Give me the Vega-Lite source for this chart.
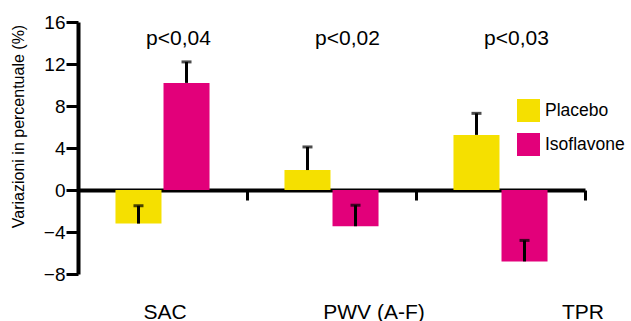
{
  "$schema": "https://vega.github.io/schema/vega-lite/v6.json",
  "width": 507,
  "height": 252,
  "autosize": {"type": "none"},
  "padding": {"left": 78, "top": 22, "right": 46, "bottom": 47},
  "background": "white",
  "config": {
    "view": {"stroke": null},
    "font": "Liberation Sans",
    "axisX": {
      "offset": -84, "domainColor": "black", "domainWidth": 4,
      "tickBand": "extent", "tickColor": "black", "tickWidth": 3, "tickSize": 10,
      "labelFontSize": 21, "labelColor": "black", "labelBaseline": "alphabetic",
      "labelPadding": 118, "labelAngle": 0
    },
    "axisY": {
      "grid": false, "domainColor": "black", "domainWidth": 4,
      "tickColor": "black", "tickWidth": 3, "tickSize": 12,
      "labelFontSize": 19, "labelColor": "black", "labelPadding": 1,
      "titleFontSize": 16, "titleFontWeight": "normal", "titleColor": "black",
      "titleX": -60, "titleY": 104, "titleAngle": -90, "titleAlign": "center", "titleBaseline": "middle"
    }
  },
  "datasets": {
    "bars": [
      {"param": "SAC", "group": "Placebo", "value": -3.2, "cap": -1.5},
      {"param": "SAC", "group": "Isoflavone", "value": 10.2, "cap": 12.2},
      {"param": "PWV (A-F)", "group": "Placebo", "value": 1.9, "cap": 4.1},
      {"param": "PWV (A-F)", "group": "Isoflavone", "value": -3.45, "cap": -1.45},
      {"param": "TPR", "group": "Placebo", "value": 5.25, "cap": 7.3},
      {"param": "TPR", "group": "Isoflavone", "value": -6.8, "cap": -4.8}
    ],
    "pvals": [
      {"param": "SAC", "p": "p<0,04"},
      {"param": "PWV (A-F)", "p": "p<0,02"},
      {"param": "TPR", "p": "p<0,03"}
    ]
  },
  "layer": [
    {
      "data": {"name": "bars"},
      "mark": {"type": "bar"},
      "encoding": {
        "x": {
          "field": "param", "type": "nominal", "sort": ["SAC", "PWV (A-F)", "TPR"],
          "scale": {"paddingInner": 0, "paddingOuter": 0},
          "axis": {
            "title": null,
            "labelOffset": {"expr": "datum.value == 'SAC' ? 2 : datum.value == 'TPR' ? 82 : 42"}
          }
        },
        "xOffset": {
          "field": "group", "type": "nominal", "sort": ["Placebo", "Isoflavone"],
          "scale": {"paddingInner": 0.042, "paddingOuter": 0.78}
        },
        "y": {
          "field": "value", "type": "quantitative",
          "scale": {"domain": [-8, 16], "nice": false, "zero": false},
          "axis": {"title": "Variazioni in percentuale (%)", "values": [-8, -4, 0, 4, 8, 12, 16]}
        },
        "color": {
          "field": "group", "type": "nominal", "sort": ["Placebo", "Isoflavone"],
          "scale": {"domain": ["Placebo", "Isoflavone"], "range": ["#F5E000", "#E2007A"]},
          "legend": {
            "title": null, "orient": "none", "legendX": 439, "legendY": 77, "padding": 0,
            "symbolType": "square", "symbolSize": 529, "symbolStrokeWidth": 0, "symbolOpacity": 1,
            "labelFontSize": 17.5, "labelColor": "black", "labelOffset": 5, "rowPadding": 11
          }
        }
      }
    },
    {
      "data": {"name": "bars"},
      "mark": {"type": "rule", "color": "black", "strokeWidth": 3},
      "encoding": {
        "x": {"field": "param", "type": "nominal", "sort": ["SAC", "PWV (A-F)", "TPR"]},
        "xOffset": {"field": "group", "type": "nominal", "sort": ["Placebo", "Isoflavone"]},
        "y": {"field": "value", "type": "quantitative"},
        "y2": {"field": "cap"}
      }
    },
    {
      "data": {"name": "bars"},
      "mark": {"type": "tick", "color": "black", "thickness": 3, "size": 10, "orient": "horizontal"},
      "encoding": {
        "x": {"field": "param", "type": "nominal", "sort": ["SAC", "PWV (A-F)", "TPR"]},
        "xOffset": {"field": "group", "type": "nominal", "sort": ["Placebo", "Isoflavone"]},
        "y": {"field": "cap", "type": "quantitative"}
      }
    },
    {
      "data": {"name": "pvals"},
      "mark": {"type": "text", "fontSize": 21, "color": "black", "baseline": "middle", "dx": 16},
      "encoding": {
        "x": {"field": "param", "type": "nominal", "sort": ["SAC", "PWV (A-F)", "TPR"]},
        "y": {"datum": 14.4},
        "text": {"field": "p"}
      }
    }
  ]
}
